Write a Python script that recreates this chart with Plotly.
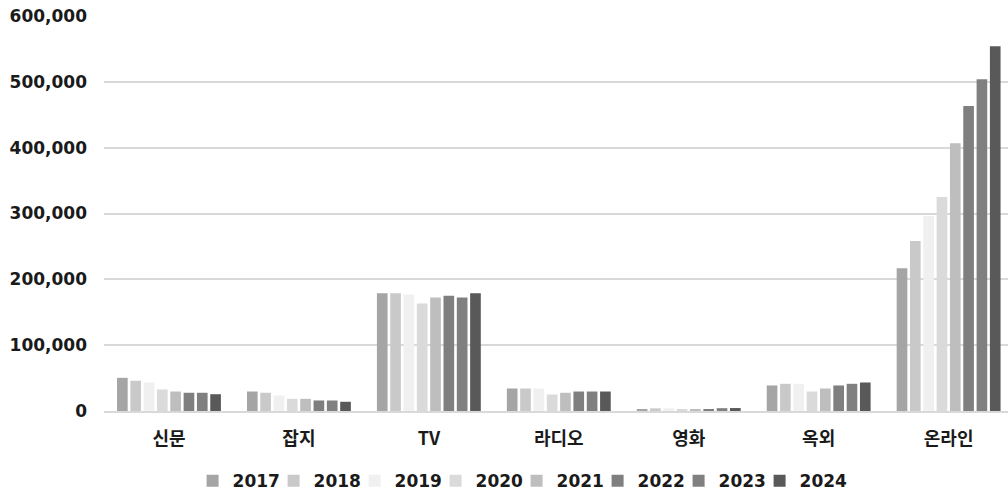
import plotly.graph_objects as go

categories = ["신문", "잡지", "TV", "라디오", "영화", "옥외", "온라인"]
years = ["2017", "2018", "2019", "2020", "2021", "2022", "2023", "2024"]

y2017 = [50400, 29600, 179000, 34200, 2000, 38800, 216800]
y2018 = [45900, 27700, 179000, 34200, 4000, 41300, 258200]
y2019 = [43300, 23600, 177000, 34200, 4200, 41300, 296200]
y2020 = [32700, 18500, 163400, 25100, 1800, 29600, 325000]
y2021 = [29600, 18500, 172500, 27700, 2000, 34200, 406700]
y2022 = [27700, 16000, 175000, 29600, 2200, 38800, 463300]
y2023 = [27700, 16000, 172500, 29600, 4300, 41300, 504000]
y2024 = [25500, 14000, 179000, 29600, 4500, 43300, 554000]

series = [y2017, y2018, y2019, y2020, y2021, y2022, y2023, y2024]
colors = ["#a5a5a5", "#c9c9c9", "#f0f0f0", "#dadada",
          "#bebebe", "#7f7f7f", "#808080", "#595959"]

fig = go.Figure()
for name, vals, col in zip(years, series, colors):
    fig.add_trace(go.Bar(x=categories, y=vals, name=name,
                         marker=dict(color=col, line=dict(width=0))))

# empty trailing legend slot so the last label is not cut off by the legend box
fig.add_trace(go.Scatter(x=[None], y=[None], mode="markers", name=" ",
                         marker=dict(color="rgba(0,0,0,0)"), hoverinfo="skip",
                         showlegend=True))

fig.update_layout(
    width=1008, height=494,
    margin=dict(l=104, r=0, t=16, b=83),
    paper_bgcolor="white", plot_bgcolor="white",
    barmode="group", bargap=0.18, bargroupgap=0.2,
    font=dict(family="Noto Sans CJK KR", color="#1a1a1a"),
    legend=dict(orientation="h", x=0.098, xanchor="left",
                yref="container", y=0.026, yanchor="middle",
                font=dict(size=17, family="DejaVu Sans", weight="bold", color="#1a1a1a"),
                traceorder="normal", entrywidth=36, entrywidthmode="pixels",
                itemwidth=30),
    xaxis=dict(range=[-0.5, 6.457], showgrid=False, showline=True,
               linecolor="#d9d9d9", linewidth=2, ticks="",
               tickfont=dict(size=18, weight="bold", family="Noto Sans CJK KR"),
               ticklabelstandoff=10),
    yaxis=dict(range=[0, 600000], dtick=100000, tickformat=",d",
               showgrid=True, gridcolor="#d9d9d9", gridwidth=1.5,
               zeroline=False, showline=False, ticks="",
               tickfont=dict(size=17, family="DejaVu Sans", weight="bold"),
               ticklabelstandoff=16),
)

fig.write_html("out.html")
